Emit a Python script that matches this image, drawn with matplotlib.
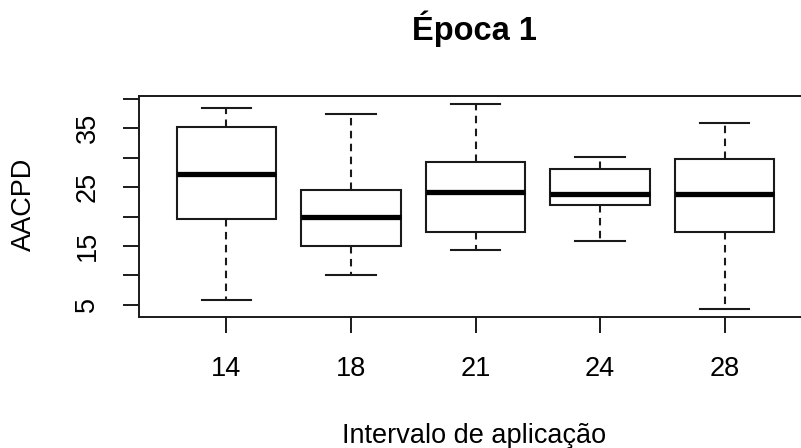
import matplotlib
matplotlib.use("Agg")
import matplotlib.pyplot as plt

plt.rcParams["font.family"] = ["Liberation Sans", "DejaVu Sans"]

# Boxplot summaries (AACPD, época 1)
groups = ["14", "18", "21", "24", "28"]
whisker_low = [5.9, 10.0, 14.4, 15.9, 4.4]
q1 = [19.5, 15.0, 17.4, 21.9, 17.4]
medians = [27.2, 20.0, 24.2, 23.9, 23.9]
q3 = [35.2, 24.5, 29.2, 28.0, 29.8]
whisker_high = [38.4, 37.3, 39.1, 30.1, 35.8]

y_ticks = [5, 10, 15, 20, 25, 30, 35, 40]
y_tick_labels = ["5", "", "15", "", "25", "", "35", ""]

W, H = 801, 448
ink = "#1a1a1a"

fig = plt.figure(figsize=(W / 100, H / 100), dpi=100)
# plot region in pixels: left 139, right 812 (cropped by image edge), top 96, bottom 317
ax = fig.add_axes([139.3 / W, 1 - 316.7 / H, (811.7 - 139.3) / W, (316.7 - 95.7) / H])

stats = []
for i, g in enumerate(groups):
    stats.append(dict(
        label=g, med=medians[i], q1=q1[i], q3=q3[i],
        whislo=whisker_low[i], whishi=whisker_high[i], fliers=[],
    ))

lw = 1.5
ax.bxp(
    stats, positions=range(1, len(groups) + 1), widths=0.8, capwidths=0.4,
    showfliers=False, patch_artist=True,
    boxprops=dict(facecolor="white", edgecolor=ink, linewidth=lw),
    medianprops=dict(color="black", linewidth=3.8, solid_capstyle="butt"),
    whiskerprops=dict(color=ink, linewidth=lw, linestyle=(0, (3.6, 2.6))),
    capprops=dict(color=ink, linewidth=lw),
)

lo = min(whisker_low)
hi = max(whisker_high)
span = hi - lo
ax.set_xlim(0.3, len(groups) + 0.7)
ax.set_ylim(lo - 0.04 * span, hi + 0.04 * span)

ax.set_yticks(y_ticks)
ax.set_yticklabels(y_tick_labels)
ax.set_xticks(range(1, len(groups) + 1))
ax.set_xticklabels(groups)

for s in ax.spines.values():
    s.set_linewidth(1.4)
    s.set_color(ink)

ax.tick_params(axis="both", length=11.5, width=1.4, color=ink,
               labelsize=19.5, pad=16.5, labelcolor="black")
ax.tick_params(axis="y", labelrotation=90)
for t in ax.get_yticklabels():
    t.set_verticalalignment("center")

fig.text(474 / W, 1 - 40 / H, "Época 1", ha="center", va="baseline",
         fontsize=23.5, fontweight="bold")
fig.text(474 / W, 1 - 443.3 / H, "Intervalo de aplicação", ha="center",
         va="baseline", fontsize=19.5)
fig.text(24 / W, 1 - 204 / H, "AACPD", ha="center", va="center",
         rotation=90, fontsize=19.5)

fig.savefig("out.png", dpi=100)
